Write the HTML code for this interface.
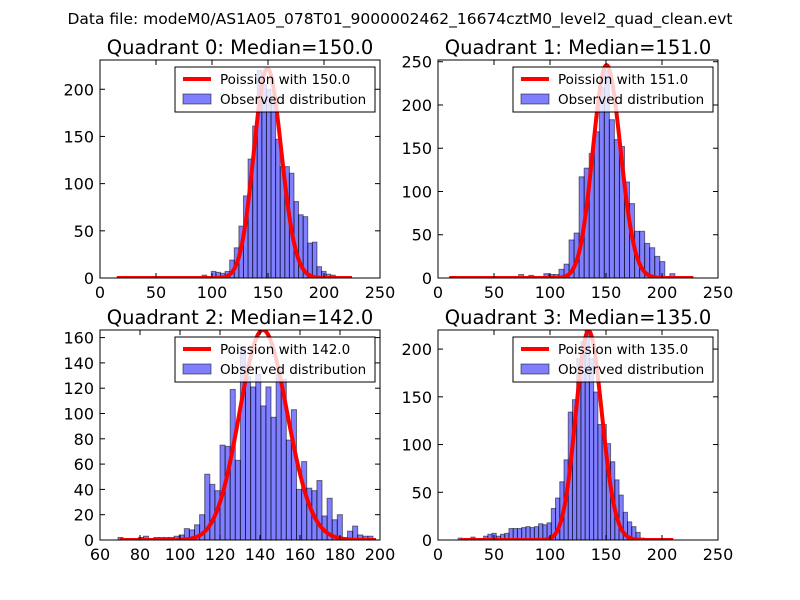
<!DOCTYPE html>
<html><head><meta charset="utf-8"><style>
body{margin:0;background:#fff}
svg{display:block;font-family:"DejaVu Sans","Liberation Sans",sans-serif}
</style></head><body>
<svg id="c" width="800" height="600" viewBox="0 0 800 600">
<text x="400" y="24" text-anchor="middle" font-size="15.5">Data file: modeM0/AS1A05_078T01_9000002462_16674cztM0_level2_quad_clean.evt</text>
</svg>
<script>
// Quadrant 0
const q0Counts=[1,0,3,0,7,6,5,7,19,32,55,87,126,161,220,205,200,190,147,118,118,111,81,67,65,37,38,12,7,4,3];
const q0BinStart=83, q0BinWidth=4.1, q0Median=150, q0Peak=222, q0CurveRange=[15,225];
const q0XTicks=[0,50,100,150,200,250], q0YTicks=[0,50,100,150,200];
// Quadrant 1
const q1Counts=[4,0,3,0,0,5,4,4,10,16,44,52,117,127,144,169,220,240,183,160,152,111,86,54,54,40,35,25,19,0,5];
const q1BinStart=72, q1BinWidth=4.5, q1Median=151, q1Peak=246, q1CurveRange=[10,228];
const q1XTicks=[0,50,100,150,200,250], q1YTicks=[0,50,100,150,200,250];
// Quadrant 2
const q2Counts=[2,0,0,0,2,3,0,2,2,2,2,3,4,9,8,12,20,52,44,39,75,74,119,63,152,129,121,131,106,121,97,131,127,79,103,40,62,41,39,47,19,33,16,20,2,7,11,4,3,3];
const q2BinStart=69, q2BinWidth=2.55, q2Median=142, q2Peak=166, q2CurveRange=[70,198];
const q2XTicks=[60,80,100,120,140,160,180,200], q2YTicks=[0,20,40,60,80,100,120,140,160];
// Quadrant 3
const q3Counts=[2,0,0,3,0,0,4,6,7,4,6,7,12,12,12,13,14,13,14,17,16,18,33,44,61,84,134,147,190,208,220,190,155,121,121,101,82,63,47,29,19,14,8,2];
const q3BinStart=18, q3BinWidth=3.78, q3Median=135, q3Peak=219, q3CurveRange=[20,210];
const q3XTicks=[0,50,100,150,200,250], q3YTicks=[0,50,100,150,200];

const NS="http://www.w3.org/2000/svg";
const svg=document.getElementById('c');
function mk(tag,attrs,parent){const e=document.createElementNS(NS,tag);for(const k in attrs)e.setAttribute(k,attrs[k]);(parent||svg).appendChild(e);return e;}
function lnFact(k){if(k<2)return 0;return k*Math.log(k)-k+0.5*Math.log(2*Math.PI*k)+1/(12*k);}

function panel(id,box,xdom,ydom,counts,bstart,bw,median,peak,crange,xt,yt){
  const [L,T,W,H]=box;
  const sx=v=>L+(v-xdom[0])/(xdom[1]-xdom[0])*W;
  const sy=v=>T+H-(v-ydom[0])/(ydom[1]-ydom[0])*H;
  const g=mk('g',{});
  
  
  const cp=mk('clipPath',{id:'cp'+id},g);mk('rect',{x:L,y:T,width:W,height:H},cp);
  const plot=mk('g',{'clip-path':'url(#cp'+id+')'},g);
  counts.forEach((c,i)=>{
    if(c<=0)return;
    const x0=bstart+i*bw;
    const r=mk('rect',{x:sx(x0),y:sy(c),width:sx(x0+bw)-sx(x0),height:sy(0)-sy(c),fill:'rgba(0,0,255,0.5)',stroke:'rgba(0,0,0,0.5)','stroke-width':1},plot);
    
    
  });
  const lnMax=median*Math.log(median)-median-lnFact(median);
  let d='';
  for(let k=crange[0];k<=crange[1];k++){
    const v=peak*Math.exp(k*Math.log(median)-median-lnFact(k)-lnMax);
    d+=(d?'L':'M')+sx(k).toFixed(2)+','+sy(v).toFixed(2);
  }
  const p=mk('path',{d:d,fill:'none',stroke:'#ff0000','stroke-width':4,'stroke-linejoin':'round'},plot);
  
  
  const fr=mk('rect',{x:L,y:T,width:W,height:H,fill:'none',stroke:'#000','stroke-width':1},g);
  
  
  xt.forEach(v=>{
    const x=sx(v);
    mk('line',{x1:x,x2:x,y1:T+H,y2:T+H-5,stroke:'#000'},g);
    mk('line',{x1:x,x2:x,y1:T,y2:T+5,stroke:'#000'},g);
    const t=mk('text',{x:x,y:T+H+20,'text-anchor':'middle','font-size':16},g);
    t.textContent=v;
    
    
  });
  yt.forEach(v=>{
    const y=sy(v);
    mk('line',{x1:L,x2:L+5,y1:y,y2:y,stroke:'#000'},g);
    mk('line',{x1:L+W,x2:L+W-5,y1:y,y2:y,stroke:'#000'},g);
    const t=mk('text',{x:L-6,y:y+6,'text-anchor':'end','font-size':16},g);
    t.textContent=v;
    
    
  });
  const tt=mk('text',{x:L+W/2,y:T-6,'text-anchor':'middle','font-size':19.5},g);
  tt.textContent='Quadrant '+id+': Median='+median.toFixed(1);
  
  
  const lx=L+75, ly=T+7;
  const lg=mk('g',{},g);
  
  
  mk('rect',{x:lx,y:ly,width:200,height:45,fill:'rgba(255,255,255,0.8)',stroke:'#000','stroke-width':1},lg);
  mk('line',{x1:lx+8,x2:lx+36,y1:ly+12,y2:ly+12,stroke:'#ff0000','stroke-width':4},lg);
  const t1=mk('text',{x:lx+45,y:ly+17,'font-size':13.5},lg);
  t1.textContent='Poission with '+median.toFixed(1);
  
  
  mk('rect',{x:lx+8,y:ly+27,width:28,height:10,fill:'rgba(0,0,255,0.5)',stroke:'rgba(0,0,0,0.5)'},lg);
  const t2=mk('text',{x:lx+45,y:ly+37,'font-size':13.5},lg);
  t2.textContent='Observed distribution';
  
  
}
panel(0,[100,60,280,218],[0,250],[0,231],q0Counts,q0BinStart,q0BinWidth,q0Median,q0Peak,q0CurveRange,q0XTicks,q0YTicks);
panel(1,[438,60,280,218],[0,250],[0,252],q1Counts,q1BinStart,q1BinWidth,q1Median,q1Peak,q1CurveRange,q1XTicks,q1YTicks);
panel(2,[100,330,280,210],[60,200],[0,166],q2Counts,q2BinStart,q2BinWidth,q2Median,q2Peak,q2CurveRange,q2XTicks,q2YTicks);
panel(3,[438,330,280,210],[0,250],[0,220],q3Counts,q3BinStart,q3BinWidth,q3Median,q3Peak,q3CurveRange,q3XTicks,q3YTicks);
</script>
</body></html>
